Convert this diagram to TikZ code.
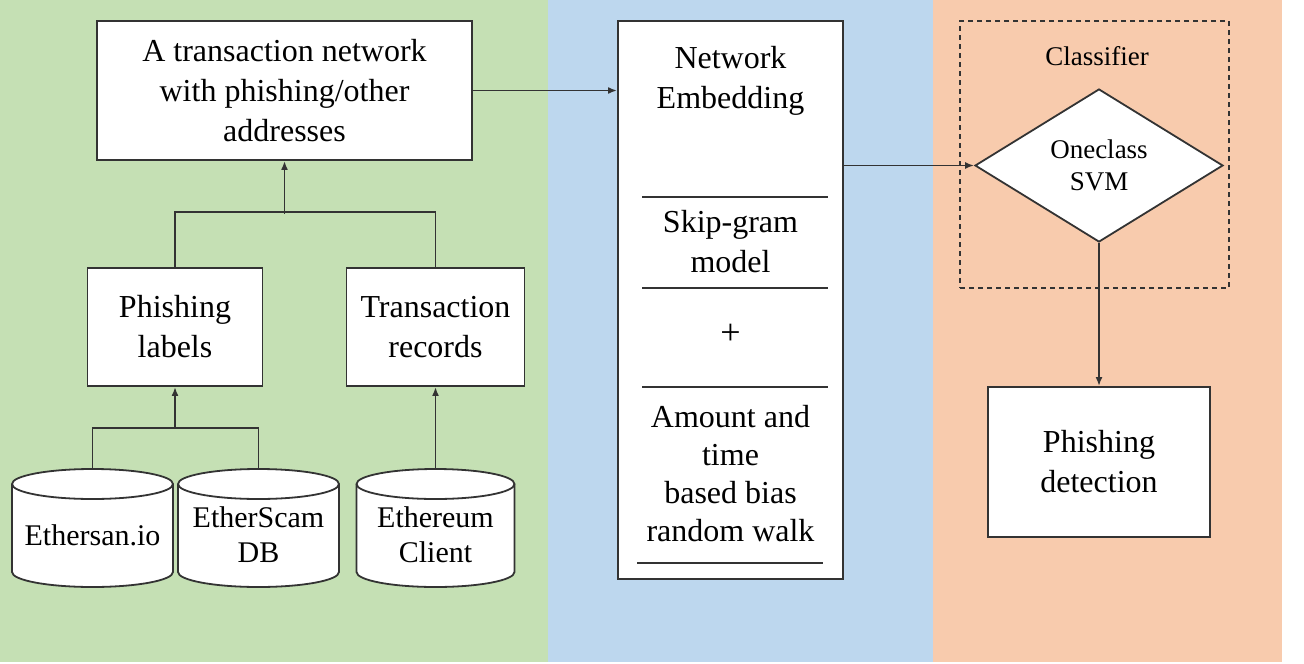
\documentclass[tikz,border=0pt]{standalone}
\usepackage{fontspec}
\setmainfont{Liberation Serif}
\usetikzlibrary{arrows.meta,shapes.geometric}
\definecolor{pgreen}{HTML}{C5E0B4}
\definecolor{pblue}{HTML}{BDD7EE}
\definecolor{porange}{HTML}{F8CBAD}
\definecolor{ink}{HTML}{333333}
\begin{document}
\begin{tikzpicture}[x=1pt,y=1pt,
  box/.style={draw=ink, line width=1.9pt, fill=white, align=center, inner sep=0pt, font=\fontsize{32}{40}\selectfont},
  lbl/.style={align=center, inner sep=0pt, font=\fontsize{32}{40}\selectfont},
  cyltext/.style={align=center, inner sep=0pt, minimum width=161pt, minimum height=132pt, font=\fontsize{30}{35}\selectfont},
  cylshape/.style={draw=ink, line width=1.8pt, fill=white},
  conn/.style={draw=ink, line width=1.8pt},
  arr/.style={conn, -{Latex[length=9pt,width=7pt]}},
  small/.style={align=center, inner sep=0pt, font=\fontsize{27}{32}\selectfont},
  rulestyle/.style={draw=ink, line width=1.8pt}
]
\useasboundingbox (0,0) rectangle (1304,-664);
\fill[white] (0,0) rectangle (1304,-664);
\fill[pgreen] (0,0) rectangle (548,-662);
\fill[pblue] (548,0) rectangle (933,-662);
\fill[porange] (933,0) rectangle (1282,-662);

% cylinders
\foreach \cx/\rx in {92.5/80.5,258.5/80.5,435.5/79}{
  \draw[cylshape] ({\cx-\rx},-484) -- ({\cx-\rx},-572)
    arc[start angle=180,end angle=360,x radius=\rx pt,y radius=15pt]
    -- ({\cx+\rx},-484)
    arc[start angle=0,end angle=180,x radius=\rx pt,y radius=15pt] -- cycle;
  \draw[cylshape, fill=none] ({\cx-\rx},-484)
    arc[start angle=180,end angle=360,x radius=\rx pt,y radius=15pt];
}
\node[cyltext] (c1) at (92.5,-535) {Ethersan.io};
\node[cyltext] (c2) at (258.5,-535) {EtherScam\\DB};
\node[cyltext] (c3) at (435.5,-535) {Ethereum\\Client};

% boxes
\node[box, minimum width=375pt, minimum height=139pt] (net) at (284.5,-90.5) {A transaction network\\with phishing/other\\addresses};
\node[box, minimum width=175pt, minimum height=118pt] (pl) at (175,-327) {Phishing\\labels};
\node[box, minimum width=178pt, minimum height=118pt] (tr) at (435.5,-327) {Transaction\\records};

\node[box, minimum width=225pt, minimum height=558pt] (ne) at (730.5,-300) {};
\node[lbl] (ne1) at (730.5,-81) {Network\\Embedding};
\node[lbl] (ne2) at (730.5,-242) {Skip-gram\\model};
\node[lbl, font=\fontsize{36}{40}\selectfont] (ne3) at (730.5,-334) {+};
\node[lbl, font=\fontsize{32}{38}\selectfont] (ne4) at (730.5,-474) {Amount and\\time\\based bias\\random walk};
\draw[rulestyle] (642,-197) -- (828,-197);
\draw[rulestyle] (642,-288) -- (828,-288);
\draw[rulestyle] (642,-387) -- (828,-387);
\draw[rulestyle] (637,-563) -- (823,-563);

\node[draw=ink, line width=1.5pt, dash pattern=on 5pt off 4pt, minimum width=269pt, minimum height=267pt, inner sep=0pt] (cls) at (1094.5,-154.5) {};
\node[small] (clst) at (1097,-56) {Classifier};
\node[diamond, draw=ink, fill=white, line width=1.8pt, minimum width=248pt, minimum height=153pt, inner sep=0pt, aspect=1.62, small] (dia) at (1099,-165.5) {Oneclass\\SVM};
\node[box, minimum width=222pt, minimum height=150pt] (pd) at (1099,-462) {Phishing\\detection};

% connectors
\draw[conn] (c1.north) -- ++(0,41) -| (c2.north);
\draw[arr] ([yshift=-42pt]pl.south) -- (pl.south);
\draw[arr] (c3.north) -- (tr.south);
\draw[conn] (pl.north) -- ++(0,55) -| (tr.north);
\draw[arr] ([yshift=-53pt]net.south) -- (net.south);
\draw[arr] (net.east) -- (net.east -| ne.west);
\draw[arr] (ne.east |- dia.west) -- (dia.west);
\draw[arr] (dia.south) -- (pd.north);
\end{tikzpicture}
\end{document}
